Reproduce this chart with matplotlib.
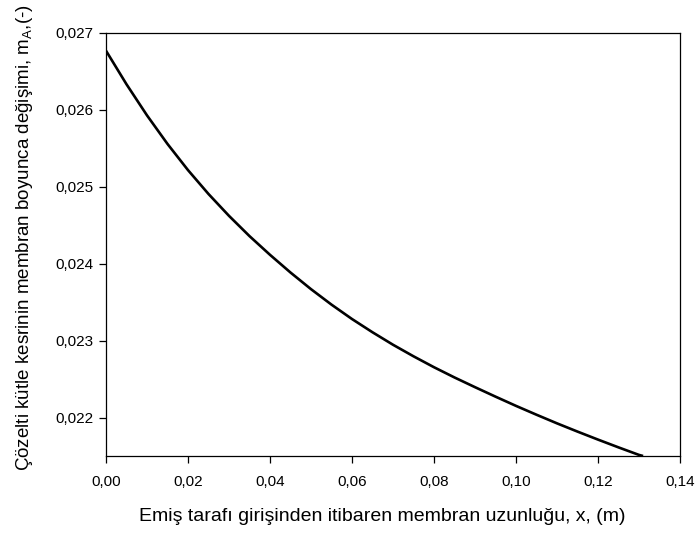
import matplotlib
matplotlib.use("Agg")
import matplotlib.pyplot as plt
from matplotlib.ticker import FixedLocator, FixedFormatter

plt.rcParams['font.family'] = ['Liberation Sans', 'DejaVu Sans']
plt.rcParams['mathtext.fontset'] = 'custom'
plt.rcParams['mathtext.rm'] = 'Liberation Sans'
plt.rcParams['mathtext.it'] = 'Liberation Sans'
plt.rcParams['mathtext.default'] = 'regular'

# Data (membrane length x, mass fraction m_A)
x_vals = [0.000, 0.005, 0.010, 0.015, 0.020, 0.025, 0.030, 0.035, 0.040,
          0.045, 0.050, 0.055, 0.060, 0.065, 0.070, 0.075, 0.080, 0.085,
          0.090, 0.095, 0.100, 0.105, 0.110, 0.115, 0.120, 0.125, 0.130,
          0.131]
m_vals = [0.026770, 0.026334, 0.025930, 0.025559, 0.025219, 0.024909,
          0.024625, 0.024362, 0.024119, 0.023889, 0.023673, 0.023472,
          0.023285, 0.023113, 0.022951, 0.022801, 0.022659, 0.022526,
          0.022400, 0.022277, 0.022157, 0.022042, 0.021930, 0.021823,
          0.021719, 0.021618, 0.021520, 0.021506]

x_ticks = [0.0, 0.02, 0.04, 0.06, 0.08, 0.10, 0.12, 0.14]
x_tick_labels = ["0,00", "0,02", "0,04", "0,06", "0,08", "0,10", "0,12", "0,14"]
y_ticks = [0.022, 0.023, 0.024, 0.025, 0.026, 0.027]
y_tick_labels = ["0,022", "0,023", "0,024", "0,025", "0,026", "0,027"]

x_label = "Emiş tarafı girişinden itibaren membran uzunluğu, x, (m)"
y_label = "Çözelti kütle kesrinin membran boyunca değişimi, m$_A$,(-)"

fig = plt.figure(figsize=(6.97, 5.37), dpi=100)
L, R, T, B = 106, 680, 33, 456
ax = fig.add_axes([L/697, 1-B/537, (R-L)/697, (B-T)/537])

ax.plot(x_vals, m_vals, color='black', linewidth=1.9,
        solid_joinstyle='round', solid_capstyle='butt')

ax.set_xlim(0, 0.14)
ax.set_ylim(0.021506, 0.027)
ax.xaxis.set_major_locator(FixedLocator(x_ticks))
ax.xaxis.set_major_formatter(FixedFormatter(x_tick_labels))
ax.yaxis.set_major_locator(FixedLocator(y_ticks))
ax.yaxis.set_major_formatter(FixedFormatter(y_tick_labels))

ax.tick_params(axis='both', direction='out', length=5, width=0.9,
               labelsize=11, colors='black')
ax.tick_params(axis='x', pad=9)
ax.tick_params(axis='y', pad=4)
for s in ax.spines.values():
    s.set_linewidth(0.9)

ax.set_xlabel(x_label, fontsize=14)
ax.set_ylabel(y_label, fontsize=13.5)
ax.xaxis.set_label_coords((382-L)/(R-L), (B-508)/(B-T))
ax.yaxis.set_label_coords((35-L)/(R-L), (B-238)/(B-T))

fig.savefig("out.png", dpi=100)
